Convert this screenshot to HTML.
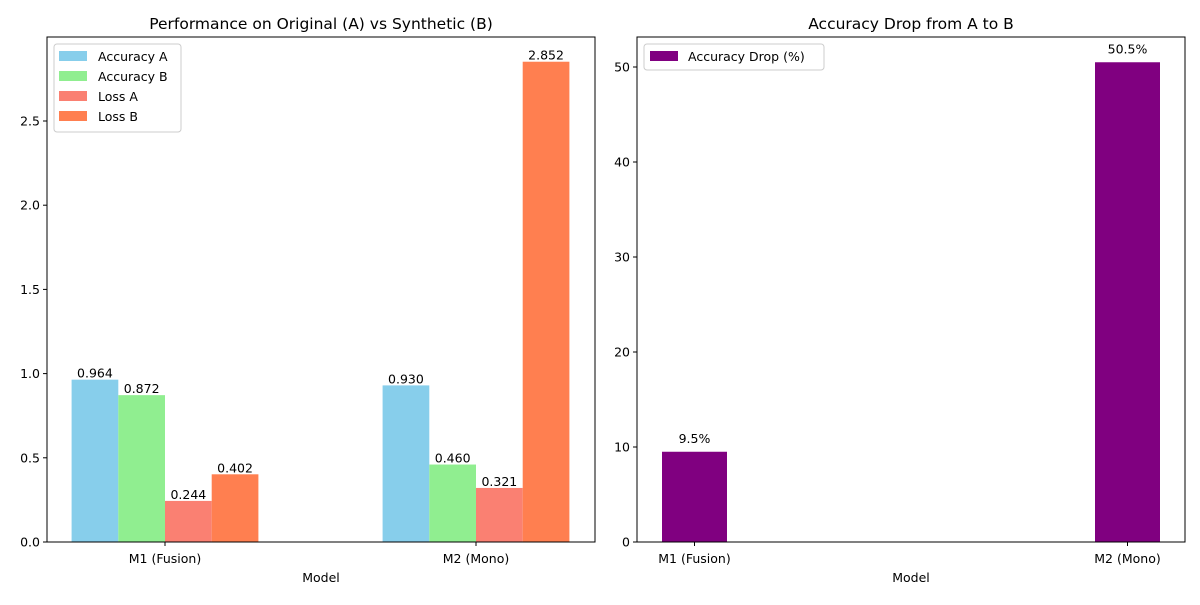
<!DOCTYPE html>
<html><head><meta charset="utf-8"><style>
body{margin:0;background:#fff;}
svg text{font-family:"DejaVu Sans","Liberation Sans",sans-serif;fill:#000;}
</style></head><body>
<svg id="c" width="1200" height="600" xmlns="http://www.w3.org/2000/svg"></svg>
<script>
const categories = ["M1 (Fusion)", "M2 (Mono)"];
const seriesNames = ["Accuracy A", "Accuracy B", "Loss A", "Loss B"];
const accA = [0.964, 0.930];
const accB = [0.872, 0.460];
const lossA = [0.244, 0.321];
const lossB = [0.402, 2.852];
const drop = [9.5, 50.5];
const leftTicks = [0.0, 0.5, 1.0, 1.5, 2.0, 2.5];
const rightTicks = [0, 10, 20, 30, 40, 50];

const NS = "http://www.w3.org/2000/svg";
const svg = document.getElementById("c");
const FS = 12.5;
function el(tag, attrs, parent, text){
  const e = document.createElementNS(NS, tag);
  for (const k in attrs) e.setAttribute(k, attrs[k]);
  if (text !== undefined) e.textContent = text;
  (parent || svg).appendChild(e);
  return e;
}
const colors = ["#87CEEB", "#90EE90", "#FA8072", "#FF7F50"];
const series = [accA, accB, lossA, lossB];

const L = {x0:47, x1:595, y0:542, y1:37};
const lx = v => 165 + 311 * v;
const ly = v => 542 - 168.4 * v;
const bw = 46.7;
const gl = el("g", {}, svg);


series.forEach((s, si) => {
  s.forEach((v, ci) => {
    const cx = lx(ci) + (si - 1.5) * bw;
    const r = el("rect", {x: cx - bw/2, y: ly(v), width: bw, height: ly(0) - ly(v), fill: colors[si]}, gl);
    
    
    const t = el("text", {x: cx, y: ly(v) - 2, "text-anchor": "middle", "font-size": FS}, gl, v.toFixed(3));
    
    
  });
});
el("rect", {x: L.x0, y: L.y1, width: L.x1 - L.x0, height: L.y0 - L.y1, fill: "none", stroke: "#000", "stroke-width": 1}, gl);
leftTicks.forEach(v => {
  el("line", {x1: L.x0 - 4, x2: L.x0, y1: ly(v), y2: ly(v), stroke: "#000"}, gl);
  const t = el("text", {x: L.x0 - 7, y: ly(v) + 4.5, "text-anchor": "end", "font-size": FS}, gl, v.toFixed(1));
  
  
});
categories.forEach((c, i) => {
  el("line", {x1: lx(i), x2: lx(i), y1: L.y0, y2: L.y0 + 4, stroke: "#000"}, gl);
  const t = el("text", {x: lx(i), y: 563, "text-anchor": "middle", "font-size": FS}, gl, c);
  
  
});
let t = el("text", {x: 321, y: 582, "text-anchor": "middle", "font-size": FS}, gl, "Model");


t = el("text", {x: 321, y: 29, "text-anchor": "middle", "font-size": 15.5}, gl, "Performance on Original (A) vs Synthetic (B)");


const lg = el("g", {}, gl);


el("rect", {x: 54, y: 44, width: 127, height: 88, rx: 3, fill: "#fff", stroke: "#ccc"}, lg);
seriesNames.forEach((n, i) => {
  el("rect", {x: 59, y: 51 + i*20, width: 28, height: 10, fill: colors[i]}, lg);
  const tt = el("text", {x: 98, y: 61 + i*20, "font-size": FS}, lg, n);
  
  
});

const R = {x0:637, x1:1185, y0:542, y1:37};
const rx = i => 694.5 + 433 * i;
const ry = v => 542 - 9.5 * v;
const gr = el("g", {}, svg);


drop.forEach((v, i) => {
  const r = el("rect", {x: rx(i) - 32.5, y: ry(v), width: 65, height: ry(0) - ry(v), fill: "#800080"}, gr);
  
  
  const tt = el("text", {x: rx(i), y: ry(v) - 9, "text-anchor": "middle", "font-size": FS}, gr, v.toFixed(1) + "%");
  
  
});
el("rect", {x: R.x0, y: R.y1, width: R.x1 - R.x0, height: R.y0 - R.y1, fill: "none", stroke: "#000"}, gr);
rightTicks.forEach(v => {
  el("line", {x1: R.x0 - 4, x2: R.x0, y1: ry(v), y2: ry(v), stroke: "#000"}, gr);
  const tt = el("text", {x: R.x0 - 7, y: ry(v) + 4.5, "text-anchor": "end", "font-size": FS}, gr, String(v));
  
  
});
categories.forEach((c, i) => {
  el("line", {x1: rx(i), x2: rx(i), y1: R.y0, y2: R.y0 + 4, stroke: "#000"}, gr);
  const tt = el("text", {x: rx(i), y: 563, "text-anchor": "middle", "font-size": FS}, gr, c);
  
  
});
t = el("text", {x: 911, y: 582, "text-anchor": "middle", "font-size": FS}, gr, "Model");


t = el("text", {x: 911, y: 29, "text-anchor": "middle", "font-size": 15.5}, gr, "Accuracy Drop from A to B");


const lg2 = el("g", {}, gr);


el("rect", {x: 644, y: 44, width: 180, height: 26, rx: 3, fill: "#fff", stroke: "#ccc"}, lg2);
el("rect", {x: 650, y: 51, width: 28, height: 10, fill: "#800080"}, lg2);
t = el("text", {x: 688, y: 61, "font-size": FS}, lg2, "Accuracy Drop (%)");


</script>
</body></html>
